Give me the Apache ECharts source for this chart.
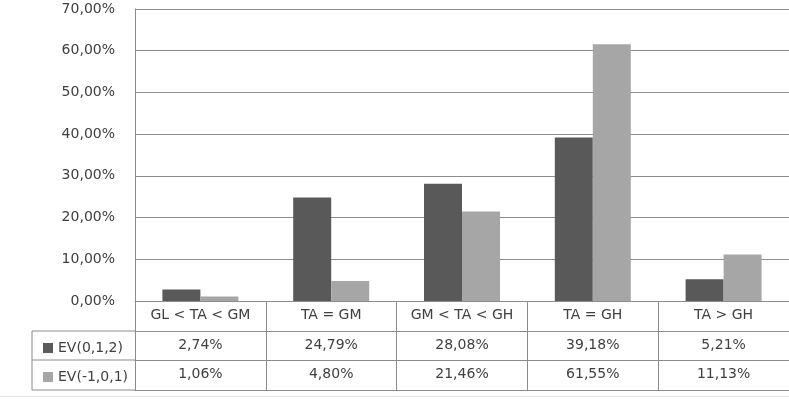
<!DOCTYPE html>
<html>
<head>
<meta charset="utf-8">
<script src="https://cdn.jsdelivr.net/npm/echarts@6/dist/echarts.min.js"></script>
<style>
  html, body { margin: 0; padding: 0; background: #fff; }
  #chart { width: 789px; height: 399px; }
</style>
</head>
<body>
<div id="chart"></div>
<script>
// data
const categories = ['GL < TA < GM', 'TA = GM', 'GM < TA < GH', 'TA = GH', 'TA > GH'];
const seriesNames = ['EV(0,1,2)', 'EV(-1,0,1)'];
const evA = [2.74, 24.79, 28.08, 39.18, 5.21];
const evB = [1.06, 4.80, 21.46, 61.55, 11.13];

const fmt = v => v.toFixed(2).replace('.', ',') + '%';
const lineCol = '#8c8c8c';
const txtCol = '#404040';
const font = 'DejaVu Sans';

let chart = echarts.init(document.getElementById('chart'));

// one axis per table row, stacked by offset
function tableAxis(offset, values, showLabel) {
    return {
        type: 'category',
        position: 'bottom',
        offset: offset,
        data: categories,
        axisLine: { show: true, lineStyle: { color: lineCol, width: 1 } },
        axisTick: { show: false },
        axisLabel: {
            show: showLabel,
            interval: 0,
            hideOverlap: false,
            margin: 7,
            fontFamily: font, fontSize: 14, color: txtCol,
            formatter: (v, i) => values ? fmt(values[i]) : v
        }
    };
}

let option = {
    animation: false,
    grid: { left: 135, right: 0, top: 9, bottom: 98, containLabel: false },
    legend: {
        orient: 'vertical',
        left: 38, top: 335,
        itemWidth: 10, itemHeight: 10, itemGap: 13,
        icon: 'rect',
        textStyle: { fontFamily: font, fontSize: 14, color: txtCol, lineHeight: 16 },
        data: seriesNames
    },
    xAxis: [
        {
            type: 'category',
            position: 'bottom',
            data: categories,
            axisLine: { show: true, lineStyle: { color: lineCol } },
            axisTick: { show: true, interval: 0, length: 89, lineStyle: { color: lineCol } },
            axisLabel: { interval: 0, hideOverlap: false, margin: 7, fontFamily: font, fontSize: 14, color: txtCol }
        },
        tableAxis(30, evA, true),
        tableAxis(59, evB, true),
        tableAxis(89, null, false)
    ],
    yAxis: {
        type: 'value',
        min: 0, max: 70, interval: 10,
        axisLine: { show: true, lineStyle: { color: lineCol } },
        axisTick: { show: false },
        splitLine: { lineStyle: { color: lineCol } },
        axisLabel: { margin: 20, fontFamily: font, fontSize: 14, color: txtCol, formatter: v => fmt(v) }
    },
    series: [
        { name: seriesNames[0], type: 'bar', xAxisIndex: 0, data: evA, barWidth: 38, barGap: '0%', itemStyle: { color: '#595959' } },
        { name: seriesNames[1], type: 'bar', xAxisIndex: 0, data: evB, barWidth: 38, barGap: '0%', itemStyle: { color: '#a6a6a6' } }
    ],
    // left column borders of the data table and the outer chart edge
    graphic: [
        { type: 'line', shape: { x1: 32, y1: 331, x2: 135, y2: 331 }, style: { stroke: lineCol } },
        { type: 'line', shape: { x1: 32, y1: 360, x2: 135, y2: 360 }, style: { stroke: lineCol } },
        { type: 'line', shape: { x1: 32, y1: 390, x2: 135, y2: 390 }, style: { stroke: lineCol } },
        { type: 'line', shape: { x1: 32, y1: 331, x2: 32, y2: 390 }, style: { stroke: lineCol } },
        { type: 'line', shape: { x1: 0, y1: 396.5, x2: 789, y2: 396.5 }, style: { stroke: '#e3e3e3' } }
    ]
};
chart.setOption(option);
</script>
</body>
</html>
